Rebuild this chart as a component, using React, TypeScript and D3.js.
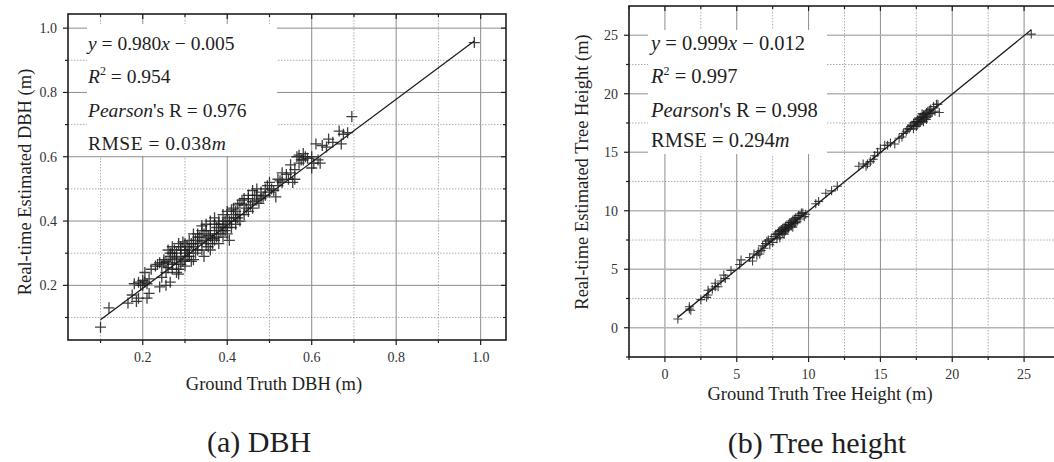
import React from 'react';
import * as d3 from 'd3';

// (a) DBH: [ground truth, real-time estimate] in metres
const dbhPoints: [number, number][] = [
  [0.1, 0.07], [0.12, 0.13], [0.165, 0.145], [0.185, 0.15], [0.19, 0.16], [0.21, 0.16], [0.215, 0.175],
  [0.175, 0.17], [0.18, 0.205], [0.19, 0.21], [0.195, 0.2], [0.2, 0.215], [0.205, 0.24], [0.21, 0.205],
  [0.215, 0.22], [0.24, 0.195], [0.255, 0.2], [0.265, 0.21], [0.245, 0.225], [0.23, 0.26], [0.235, 0.265],
  [0.25, 0.27], [0.255, 0.275], [0.245, 0.26], [0.26, 0.255], [0.27, 0.3], [0.275, 0.28], [0.28, 0.285],
  [0.285, 0.25], [0.285, 0.235], [0.29, 0.32], [0.295, 0.335], [0.3, 0.31], [0.305, 0.29], [0.31, 0.29],
  [0.315, 0.275], [0.29, 0.265], [0.3, 0.3], [0.305, 0.32], [0.32, 0.32], [0.325, 0.3], [0.33, 0.33],
  [0.335, 0.35], [0.34, 0.31], [0.345, 0.29], [0.35, 0.34], [0.355, 0.32], [0.36, 0.37], [0.365, 0.33],
  [0.37, 0.41], [0.37, 0.36], [0.375, 0.38], [0.38, 0.39], [0.385, 0.37], [0.39, 0.42], [0.395, 0.37],
  [0.4, 0.36], [0.405, 0.34], [0.35, 0.39], [0.36, 0.4], [0.345, 0.36], [0.33, 0.35], [0.32, 0.28],
  [0.31, 0.31], [0.28, 0.3], [0.275, 0.31], [0.265, 0.29], [0.27, 0.265], [0.255, 0.24], [0.28, 0.24],
  [0.29, 0.29], [0.295, 0.275], [0.3, 0.28], [0.31, 0.34], [0.315, 0.33], [0.325, 0.34], [0.34, 0.335],
  [0.355, 0.355], [0.365, 0.345], [0.375, 0.35], [0.38, 0.33], [0.39, 0.39], [0.395, 0.4], [0.4, 0.41],
  [0.405, 0.4], [0.41, 0.435], [0.415, 0.42], [0.42, 0.43], [0.425, 0.41], [0.43, 0.455], [0.435, 0.465],
  [0.44, 0.42], [0.445, 0.44], [0.45, 0.47], [0.455, 0.45], [0.46, 0.495], [0.465, 0.48], [0.47, 0.465],
  [0.475, 0.455], [0.48, 0.49], [0.485, 0.475], [0.49, 0.5], [0.495, 0.51], [0.5, 0.52], [0.505, 0.5],
  [0.51, 0.495], [0.515, 0.475], [0.52, 0.53], [0.525, 0.525], [0.53, 0.55], [0.54, 0.545], [0.545, 0.53],
  [0.55, 0.575], [0.555, 0.52], [0.56, 0.53], [0.565, 0.6], [0.57, 0.605], [0.575, 0.59], [0.58, 0.61],
  [0.585, 0.6], [0.59, 0.595], [0.6, 0.565], [0.605, 0.58], [0.61, 0.64], [0.615, 0.59], [0.625, 0.635],
  [0.635, 0.63], [0.64, 0.655], [0.65, 0.645], [0.665, 0.68], [0.67, 0.64], [0.675, 0.67], [0.685, 0.675],
  [0.695, 0.725], [0.985, 0.955],
  [0.38, 0.4], [0.39, 0.35], [0.4, 0.38], [0.41, 0.4], [0.42, 0.39], [0.43, 0.42], [0.415, 0.44],
  [0.425, 0.45], [0.44, 0.45], [0.45, 0.43], [0.46, 0.46], [0.47, 0.48], [0.48, 0.47], [0.35, 0.37],
  [0.36, 0.31], [0.33, 0.31], [0.3, 0.33], [0.27, 0.32], [0.285, 0.33], [0.265, 0.3], [0.25, 0.28],
  [0.26, 0.31],
  [0.28, 0.27], [0.29, 0.31], [0.3, 0.26], [0.31, 0.3], [0.32, 0.33], [0.33, 0.36], [0.34, 0.37],
  [0.35, 0.33], [0.36, 0.35], [0.37, 0.34], [0.38, 0.36], [0.39, 0.38], [0.4, 0.43], [0.41, 0.38],
  [0.42, 0.41], [0.43, 0.4], [0.44, 0.47], [0.45, 0.48], [0.46, 0.44], [0.47, 0.5], [0.49, 0.48],
  [0.5, 0.49], [0.52, 0.51], [0.53, 0.52], [0.55, 0.55], [0.56, 0.56], [0.57, 0.58], [0.58, 0.59],
  [0.6, 0.6], [0.62, 0.58], [0.27, 0.25], [0.24, 0.27], [0.26, 0.27], [0.22, 0.25], [0.2, 0.2],
  [0.205, 0.21], [0.32, 0.36], [0.34, 0.385], [0.37, 0.39],
];
const dbhFit = { slope: 0.98, intercept: -0.005, from: 0.1, to: 0.985 };
const dbhTicks = [0.2, 0.4, 0.6, 0.8, 1.0];
const dbhMinorTicks = [0.1, 0.3, 0.5, 0.7, 0.9];

// (b) Tree height: [ground truth, real-time estimate] in metres
const heightPoints: [number, number][] = [
  [0.9, 0.75], [1.7, 1.6], [1.7, 1.8], [1.8, 1.5], [2.5, 2.4], [2.9, 2.6], [3.0, 3.2], [3.0, 2.8],
  [3.3, 3.3], [3.5, 3.5], [3.5, 3.8], [3.7, 3.5], [3.9, 4.0], [4.2, 4.2], [4.1, 4.5], [4.6, 4.9],
  [5.2, 5.4], [5.3, 5.8], [5.9, 6.0], [6.1, 5.7], [6.4, 6.2], [6.5, 6.5], [6.7, 6.6], [6.8, 7.0],
  [7.0, 7.2], [7.1, 7.4], [7.2, 7.5], [7.5, 7.3], [7.6, 7.8], [7.8, 7.6], [7.9, 8.2], [8.0, 8.0],
  [8.1, 8.4], [8.2, 8.1], [8.3, 8.6], [8.4, 8.3], [8.5, 8.8], [8.6, 8.5], [8.7, 9.0], [8.8, 8.7],
  [8.9, 9.2], [9.0, 8.9], [9.1, 9.4], [9.2, 9.1], [9.3, 9.6], [9.4, 9.3], [9.5, 9.8], [9.7, 9.5],
  [8.0, 7.7], [7.7, 8.0], [8.3, 8.2], [8.6, 8.8], [8.9, 8.6], [9.0, 9.3], [8.4, 8.7], [8.1, 8.2],
  [7.8, 8.0], [8.0, 8.3], [8.2, 8.5], [8.4, 8.5], [8.6, 8.6], [8.8, 9.0], [9.0, 9.1], [9.2, 9.4],
  [9.4, 9.6], [9.6, 9.8], [9.8, 9.7], [8.5, 8.4], [8.7, 8.8], [9.1, 9.0], [8.3, 8.0], [7.4, 7.6],
  [7.3, 7.1], [6.9, 6.8], [6.6, 6.3], [6.2, 6.3],
  [10.5, 10.6], [10.7, 10.8], [11.2, 11.5], [11.6, 11.7], [12.0, 12.1], [13.5, 13.8], [13.8, 14.0],
  [14.0, 13.8], [14.3, 14.2], [14.5, 14.4], [14.8, 15.0], [15.0, 15.3], [15.3, 15.6], [15.7, 15.8],
  [16.0, 15.7], [16.5, 16.3], [16.6, 16.6], [16.8, 16.8], [17.0, 17.0], [17.2, 17.3], [17.4, 17.6],
  [17.5, 17.2], [17.6, 17.8], [17.7, 17.5], [17.8, 18.0], [17.9, 17.7], [18.0, 18.2], [18.1, 17.9],
  [18.2, 18.4], [18.3, 18.1], [18.4, 18.6], [18.5, 18.3], [18.7, 18.9], [18.8, 18.5], [18.9, 19.1],
  [17.3, 17.0], [17.6, 17.4], [18.0, 17.6], [17.9, 18.3], [18.2, 17.8], [19.0, 19.1], [19.1, 18.4],
  [17.1, 17.2], [17.3, 17.5], [17.5, 17.6], [17.7, 17.9], [17.9, 18.0], [18.1, 18.2], [18.3, 18.5],
  [18.5, 18.7], [18.6, 18.4], [17.8, 17.6], [18.0, 18.0], [18.2, 18.0], [18.4, 18.3], [17.6, 17.6],
  [17.4, 17.3], [16.9, 17.0], [16.3, 16.2], [15.5, 15.6], [14.6, 14.7], [14.1, 14.0],
  [25.5, 25.1],
];
const heightFit = { slope: 0.999, intercept: -0.012, from: 0.9, to: 25.5 };
const heightTicks = [0, 5, 10, 15, 20, 25];
const heightMinorTicks = [-2.5, 2.5, 7.5, 12.5, 17.5, 22.5];

const FONT = '"Liberation Serif", "Times New Roman", serif';
const INK = '#1e1e1e';

type PanelProps = {
  points: [number, number][];
  fit: { slope: number; intercept: number; from: number; to: number };
  ticks: number[];
  minor: number[];
  xDomain: [number, number];
  yDomain: [number, number];
  frame: { x0: number; x1: number; y0: number; y1: number };
  fmt: (d: number) => string;
  markSize: number;
  markWidth: number;
  hGridColor: string;
  hGridWidth: number;
};

const Panel = ({ points, fit, ticks, minor, xDomain, yDomain, frame, fmt, markSize, markWidth, hGridColor, hGridWidth }: PanelProps) => {
  const x = d3.scaleLinear().domain(xDomain).range([frame.x0, frame.x1]);
  const y = d3.scaleLinear().domain(yDomain).range([frame.y1, frame.y0]);
  const line = d3.line<number>().x((d) => x(d)).y((d) => y(fit.slope * d + fit.intercept));

  return (
    <g>
      {/* minor grid */}
      {minor.map((t) => (
        <g key={'m' + t}>
          <line x1={x(t)} x2={x(t)} y1={frame.y0} y2={frame.y1} stroke="#999" strokeWidth={0.8} strokeDasharray="1.5,1.5" />
          <line x1={frame.x0} x2={frame.x1} y1={y(t)} y2={y(t)} stroke="#999" strokeWidth={0.8} strokeDasharray="1.5,1.5" />
        </g>
      ))}
      {/* major grid */}
      {ticks.map((t) => (
        <g key={'g' + t}>
          <line x1={x(t)} x2={x(t)} y1={frame.y0} y2={frame.y1} stroke="#8c8c8c" strokeWidth={1} />
          <line x1={frame.x0} x2={frame.x1} y1={y(t)} y2={y(t)} stroke={hGridColor} strokeWidth={hGridWidth} />
        </g>
      ))}
      <path d={line([fit.from, fit.to]) || ''} stroke={INK} strokeWidth={1.3} fill="none" />
      {points.map(([px, py], i) => (
        <path
          key={i}
          d={`M${x(px) - markSize},${y(py)}h${markSize * 2}M${x(px)},${y(py) - markSize}v${markSize * 2}`}
          stroke={INK}
          strokeWidth={markWidth}
          strokeOpacity={0.85}
          fill="none"
        />
      ))}
      <rect x={frame.x0} y={frame.y0} width={frame.x1 - frame.x0} height={frame.y1 - frame.y0} fill="none" stroke={INK} strokeWidth={1.6} />
      {/* ticks: left and bottom outward, top and right inward */}
      {[...ticks.map((t) => [t, 5]), ...minor.map((t) => [t, 3])].map(([t, len]) => (
        <g key={'t' + t} stroke={INK} strokeWidth={1.2}>
          <line x1={x(t)} x2={x(t)} y1={frame.y1} y2={frame.y1 + len} />
          <line x1={x(t)} x2={x(t)} y1={frame.y0} y2={frame.y0 + len} />
          <line x1={frame.x0 - len} x2={frame.x0} y1={y(t)} y2={y(t)} />
          <line x1={frame.x1 - len} x2={frame.x1} y1={y(t)} y2={y(t)} />
        </g>
      ))}
      {ticks.map((t) => (
        <g key={'l' + t} fontFamily={FONT} fontSize={14} fill="#333">
          <text x={x(t)} y={frame.y1 + 22} textAnchor="middle">{fmt(t)}</text>
          <text x={frame.x0 - 11} y={y(t) + 5} textAnchor="end">{fmt(t)}</text>
        </g>
      ))}
    </g>
  );
};

const App = () => {
  return (
    <div style={{ position: 'absolute', left: 0, top: 0 }}>
      <svg width={1054} height={462} style={{ display: 'block', background: '#fff' }}>
        <Panel
          points={dbhPoints}
          fit={dbhFit}
          ticks={dbhTicks}
          minor={dbhMinorTicks}
          xDomain={[0.023, 1.06]}
          yDomain={[0.03, 1.044]}
          frame={{ x0: 68, x1: 506, y0: 14, y1: 340 }}
          fmt={d3.format('.1f')}
          markSize={5.5}
          markWidth={1.3}
          hGridColor="#8c8c8c"
          hGridWidth={1}
        />
        <Panel
          points={heightPoints}
          fit={heightFit}
          ticks={heightTicks}
          minor={heightMinorTicks}
          xDomain={[-2.5, 27.5]}
          yDomain={[-2.5, 27.5]}
          frame={{ x0: 629, x1: 1060, y0: 6, y1: 357 }}
          fmt={(d) => String(d)}
          markSize={4.5}
          markWidth={1.1}
          hGridColor="#b5b5b5"
          hGridWidth={1.6}
        />

        {/* statistics boxes */}
        <rect x={87} y={24} width={190} height={132} fill="#fff" />
        <g fontFamily={FONT} fontSize={19.5} fill={INK}>
          <text x={88} y={50}>
            <tspan fontStyle="italic">y</tspan> = 0.980<tspan fontStyle="italic">x</tspan> − 0.005
          </text>
          <text x={88} y={83}>
            <tspan fontStyle="italic">R</tspan>
            <tspan dy={-8} fontSize={12}>2</tspan>
            <tspan dy={8}> = 0.954</tspan>
          </text>
          <text x={88} y={117}>
            <tspan fontStyle="italic">Pearson</tspan>'s R = 0.976
          </text>
          <text x={88} y={150} letterSpacing={0.5}>
            RMSE = 0.038<tspan fontStyle="italic">m</tspan>
          </text>
        </g>
        <rect x={648} y={30} width={179} height={124} fill="#fff" />
        <g fontFamily={FONT} fontSize={20.5} fill={INK}>
          <text x={651} y={50}>
            <tspan fontStyle="italic">y</tspan> = 0.999<tspan fontStyle="italic">x</tspan> − 0.012
          </text>
          <text x={651} y={83}>
            <tspan fontStyle="italic">R</tspan>
            <tspan dy={-8} fontSize={12}>2</tspan>
            <tspan dy={8}> = 0.997</tspan>
          </text>
          <text x={651} y={117}>
            <tspan fontStyle="italic">Pearson</tspan>'s R = 0.998
          </text>
          <text x={651} y={147}>
            RMSE = 0.294<tspan fontStyle="italic">m</tspan>
          </text>
        </g>

        {/* axis titles */}
        <g fontFamily={FONT} fontSize={18.5} fill={INK} textAnchor="middle">
          <text x={274} y={390}>Ground Truth DBH (m)</text>
          <text transform="translate(31,182) rotate(-90)">Real-time Estimated DBH (m)</text>
          <text x={820} y={400}>Ground Truth Tree Height (m)</text>
          <text transform="translate(588,172) rotate(-90)">Real-time Estimated Tree Height (m)</text>
        </g>
        <g fontFamily={FONT} fontSize={30} fill={INK} textAnchor="middle">
          <text x={259} y={452}>(a) DBH</text>
          <text x={817} y={453}>(b) Tree height</text>
        </g>
      </svg>
    </div>
  );
};

export default App;
